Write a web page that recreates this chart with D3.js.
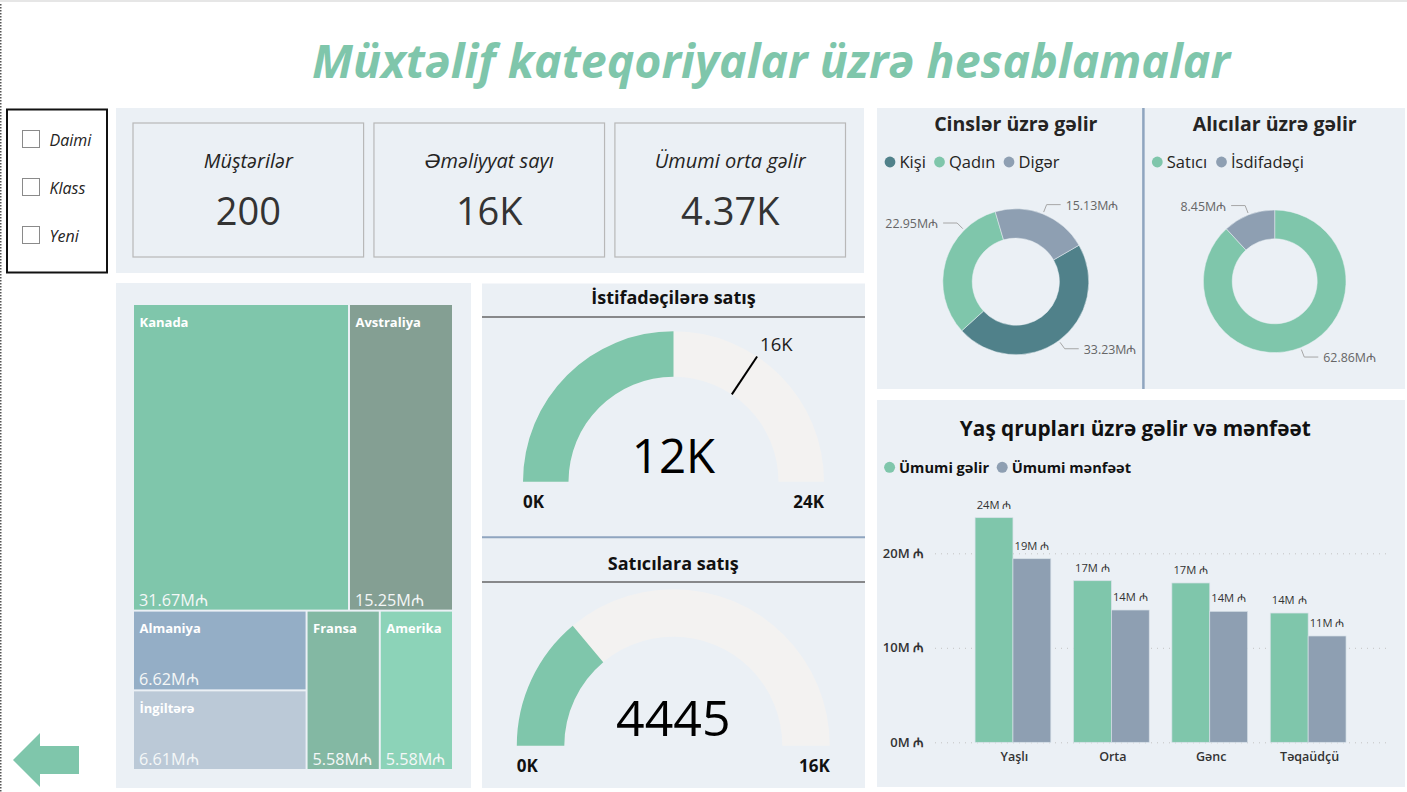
<!DOCTYPE html>
<html>
<head>
<meta charset="utf-8">
<script src="https://cdn.jsdelivr.net/npm/d3@7"></script>
<style>
  body { margin: 0; background: #fff; overflow: hidden; }
  svg { display: block; }
  text { font-family: "Open Sans", "DejaVu Sans", sans-serif; }
</style>
</head>
<body>
<div id="chart"></div>
<script>
const green = "#7FC6AB"
const slate = "#8E9FB2"
const teal = "#50818A"
const panelBg = "#EBF0F5"
const track = "#F3F2F1"

// slicer + cards
const slicerItems = ["Daimi", "Klass", "Yeni"]
const cardLabels = ["Müştərilər", "Əməliyyat sayı", "Ümumi orta gəlir"]
const cardValues = ["200", "16K", "4.37K"]

// treemap
const treeNames = ["Kanada", "Avstraliya", "Almaniya", "İngiltərə", "Fransa", "Amerika"]
const treeValues = [31.67, 15.25, 6.62, 6.61, 5.58, 5.58]
const treeColors = ["#7FC6AB", "#849F93", "#94AEC6", "#BBC9D7", "#83B8A3", "#8CD3B8"]

// gauges
const gaugeTitles = ["İstifadəçilərə satış", "Satıcılara satış"]
const gaugeValues = [12000, 4445]
const gaugeMax = [24000, 16000]
const gaugeLabels = ["12K", "4445"]
const gaugeMaxLabels = ["24K", "16K"]
const gaugeTarget = 16500
const gaugeTargetLabel = "16K"

// donuts
const genderNames = ["Kişi", "Qadın", "Digər"]
const genderValues = [33.23, 22.95, 15.13]
const buyerNames = ["Satıcı", "İsdifadəçi"]
const buyerValues = [62.86, 8.45]

// bars
const ageGroups = ["Yaşlı", "Orta", "Gənc", "Təqaüdçü"]
const revenue = [23.77, 17.1, 16.86, 13.68]
const profit = [19.43, 14.0, 13.86, 11.25]
const barSeries = ["Ümumi gəlir", "Ümumi mənfəət"]
const yTicks = [0, 10, 20]

const svg = d3.select("#chart").append("svg")
    .attr("width", 1407)
    .attr("height", 792)

const panel = (x, y, w, h) => {
    svg.append("rect").attr("x", x).attr("y", y).attr("width", w).attr("height", h).attr("fill", panelBg)
}

const label = (g, x, y, str, size, opts = {}) => {
    return g.append("text")
        .attr("x", x)
        .attr("y", y)
        .attr("font-size", size)
        .attr("text-anchor", opts.anchor || "start")
        .attr("font-weight", opts.weight || 400)
        .attr("font-style", opts.style || "normal")
        .attr("fill", opts.fill || "#252423")
        .text(str)
}

const hline = (x1, x2, y, color, width) => {
    svg.append("line").attr("x1", x1).attr("x2", x2).attr("y1", y).attr("y2", y)
        .attr("stroke", color).attr("stroke-width", width)
}

// page furniture
svg.append("rect").attr("width", 1407).attr("height", 2).attr("fill", "#E6E6E6")
svg.append("line").attr("x1", 0.75).attr("x2", 0.75).attr("y1", 4).attr("y2", 792)
    .attr("stroke", "#555").attr("stroke-width", 1.5).attr("stroke-dasharray", "1.5,1.5")

label(svg, 771, 78, "Müxtəlif kateqoriyalar üzrə hesablamalar", 46.5, {anchor: "middle", weight: 700, style: "italic", fill: green})

panel(116, 108, 748, 165)
panel(116, 283, 355, 505)
panel(482, 283.5, 383, 504.5)
panel(877, 108, 528, 281)
panel(877, 400, 528, 387)

// slicer
svg.append("rect").attr("x", 7).attr("y", 109.5).attr("width", 100).attr("height", 163)
    .attr("fill", "#fff").attr("stroke", "#111").attr("stroke-width", 2)

const slicerY = d3.scalePoint().domain(slicerItems).range([139, 235])
slicerItems.forEach((d) => {
    svg.append("rect").attr("x", 22.5).attr("y", slicerY(d) - 8.5).attr("width", 17).attr("height", 17)
        .attr("fill", "#fff").attr("stroke", "#8a8a8a").attr("stroke-width", 1)
    label(svg, 49.5, slicerY(d) + 6.5, d, 16, {style: "italic"})
})

// cards
const cardX = d3.scaleBand().domain(cardLabels).range([133, 845.5]).paddingInner(0.043)
cardLabels.forEach((d, i) => {
    svg.append("rect").attr("x", cardX(d)).attr("y", 123).attr("width", cardX.bandwidth()).attr("height", 134)
        .attr("fill", "none").attr("stroke", "#B8B8B8").attr("stroke-width", 1.2)
    const cx = cardX(d) + cardX.bandwidth() / 2
    label(svg, cx, 168, d, 20, {anchor: "middle", style: "italic"})
    label(svg, cx, 225, cardValues[i], 38, {anchor: "middle", fill: "#333"})
})

// back arrow
svg.append("path").attr("d", "M13,760L40,733V746H79V774H40V787Z").attr("fill", green)

// treemap, rows and columns follow the original nesting
const byName = (n) => ({name: n, value: treeValues[treeNames.indexOf(n)]})
const treeData = {children: [
    {children: [byName("Kanada"), byName("Avstraliya")]},
    {children: [
        {children: [byName("Almaniya"), byName("İngiltərə")]},
        byName("Fransa"),
        byName("Amerika")
    ]}
]}
const tile = (node, x0, y0, x1, y1) => {
    if (node.depth === 1) d3.treemapDice(node, x0, y0, x1, y1)
    else d3.treemapSlice(node, x0, y0, x1, y1)
}
const treeRoot = d3.hierarchy(treeData).sum((d) => d.value || 0)
d3.treemap().size([318, 464]).tile(tile).paddingInner(2)(treeRoot)

const cells = svg.append("g").attr("transform", "translate(134,305)")
    .selectAll("g").data(treeRoot.leaves()).enter().append("g")
cells.append("rect")
    .attr("x", (d) => d.x0)
    .attr("y", (d) => d.y0)
    .attr("width", (d) => d.x1 - d.x0)
    .attr("height", (d) => d.y1 - d.y0)
    .attr("fill", (d) => treeColors[treeNames.indexOf(d.data.name)])
cells.append("text")
    .attr("x", (d) => d.x0 + 5.5)
    .attr("y", (d) => d.y0 + 21.5)
    .attr("font-size", 13)
    .attr("font-weight", 700)
    .attr("fill", "#fff")
    .text((d) => d.data.name)
cells.append("text")
    .attr("x", (d) => d.x0 + 5)
    .attr("y", (d) => d.y1 - 4)
    .attr("font-size", 16.2)
    .attr("fill", "#F4F7F7")
    .text((d) => d.data.value.toFixed(2) + "M₼")

// gauges
const gaugeGeom = [
    {cx: 673.5, cy: 481.7, r0: 105, r1: 150.5, titleY: 304, lineY: 317, valueY: 473, valueSize: 47.5, endY: 508},
    {cx: 673.3, cy: 745.7, r0: 109, r1: 156.5, titleY: 570, lineY: 582, valueY: 736, valueSize: 50, endY: 772}
]
hline(482, 865, 537.3, "#8FA5BF", 2)

gaugeTitles.forEach((t, i) => {
    const g = gaugeGeom[i]
    const angle = d3.scaleLinear().domain([0, gaugeMax[i]]).range([-Math.PI / 2, Math.PI / 2])
    const arc = d3.arc().innerRadius(g.r0).outerRadius(g.r1)
    const holder = svg.append("g").attr("transform", `translate(${g.cx},${g.cy})`)

    label(svg, g.cx, g.titleY, t, 18, {anchor: "middle", weight: 700, fill: "#111"})
    hline(482, 865, g.lineY, "#666", 1.5)

    holder.append("path").attr("fill", track)
        .attr("d", arc({startAngle: -Math.PI / 2, endAngle: Math.PI / 2}))
    holder.append("path").attr("fill", green)
        .attr("d", arc({startAngle: -Math.PI / 2, endAngle: angle(gaugeValues[i])}))

    label(svg, g.cx, g.valueY, gaugeLabels[i], g.valueSize, {anchor: "middle", fill: "#000"})
    label(svg, g.cx - g.r1, g.endY, "0K", 17, {weight: 700, fill: "#111"})
    label(svg, g.cx + g.r1, g.endY, gaugeMaxLabels[i], 17, {anchor: "end", weight: 700, fill: "#111"})

    if (i === 0) {
        const a = angle(gaugeTarget)
        holder.append("line")
            .attr("x1", g.r0 * Math.sin(a)).attr("y1", -g.r0 * Math.cos(a))
            .attr("x2", g.r1 * Math.sin(a)).attr("y2", -g.r1 * Math.cos(a))
            .attr("stroke", "#000").attr("stroke-width", 2)
        label(svg, g.cx + g.r1 * Math.sin(a) + 3, g.cy - g.r1 * Math.cos(a) - 6, gaugeTargetLabel, 18.5, {fill: "#222"})
    }
})

// donuts
const drawDonut = (opts) => {
    const pie = d3.pie().sort(null).startAngle(opts.start).endAngle(opts.start + Math.PI * 2)
    const arcs = pie(opts.values)
    const arc = d3.arc().innerRadius(opts.r0).outerRadius(opts.r1)
    const g = svg.append("g").attr("transform", `translate(${opts.cx},${opts.cy})`)

    g.selectAll("path").data(arcs).enter().append("path")
        .attr("d", arc)
        .attr("fill", (d, i) => opts.colors[i])
        .attr("stroke", panelBg)
        .attr("stroke-width", 0.5)

    arcs.forEach((d, i) => {
        // the Qadın leader sits off its slice centre in the original
        const mid = opts.leaderAngle && opts.leaderAngle[i] !== undefined
            ? opts.leaderAngle[i]
            : (d.startAngle + d.endAngle) / 2
        const side = Math.sin(mid) >= 0 ? 1 : -1
        const p1 = [(opts.r1 + 2) * Math.sin(mid), -(opts.r1 + 2) * Math.cos(mid)]
        const p2 = [(opts.r1 + 10) * Math.sin(mid), -(opts.r1 + 10) * Math.cos(mid)]
        const p3 = [p2[0] + side * 14, p2[1]]
        g.append("polyline")
            .attr("points", [p1, p2, p3].join(" "))
            .attr("fill", "none").attr("stroke", "#A6A6A6").attr("stroke-width", 1)
        label(g, p3[0] + side * 5, p3[1] + 5, d.value.toFixed(2) + "M₼", 12.4, {anchor: side > 0 ? "start" : "end", fill: "#666"})
    })

    label(svg, opts.cx, 131, opts.title, 19.5, {anchor: "middle", weight: 700})

    opts.names.forEach((n, i) => {
        svg.append("circle").attr("cx", opts.legendX[i]).attr("cy", 162).attr("r", 5.4).attr("fill", opts.colors[i])
        label(svg, opts.legendX[i] + 9.5, 167.5, n, 16.5)
    })
}

drawDonut({
    cx: 1015.8, cy: 281.7, r0: 43.6, r1: 73, start: Math.PI / 3,
    values: genderValues, names: genderNames, colors: [teal, green, slate],
    title: "Cinslər üzrə gəlir", legendX: [890, 939.5, 1009],
    leaderAngle: [undefined, Math.PI * 1.75, undefined]
})
drawDonut({
    cx: 1274.7, cy: 281.3, r0: 42.5, r1: 71.3, start: 0,
    values: buyerValues, names: buyerNames, colors: [green, slate],
    title: "Alıcılar üzrə gəlir", legendX: [1157.3, 1221.5]
})
svg.append("line").attr("x1", 1143.4).attr("x2", 1143.4).attr("y1", 108).attr("y2", 389)
    .attr("stroke", "#8FA5BF").attr("stroke-width", 2.5)

// grouped bars
const yScale = d3.scaleLinear().domain([0, 20]).range([742.3, 553.3])
const xScale = d3.scaleBand().domain(ageGroups).range([963.75, 1357.35]).paddingInner(0.23).paddingOuter(0.115)
const xSub = d3.scaleBand().domain(barSeries).range([0, xScale.bandwidth()])
const barColor = d3.scaleOrdinal().domain(barSeries).range([green, slate])

label(svg, 1135.3, 436, "Yaş qrupları üzrə gəlir və mənfəət", 20.8, {anchor: "middle", weight: 700, fill: "#111"})

const legendX = [889.6, 1002.2]
barSeries.forEach((s, i) => {
    svg.append("circle").attr("cx", legendX[i]).attr("cy", 467.3).attr("r", 5.5).attr("fill", barColor(s))
    label(svg, legendX[i] + 9.5, 472.5, s, 14.6, {weight: 700, fill: "#111"})
})

const yAxis = svg.append("g")
    .attr("transform", "translate(935,0)")
    .call(d3.axisLeft(yScale).tickValues(yTicks).tickSize(-451).tickPadding(11).tickFormat((d) => d + "M ₼"))
yAxis.select(".domain").remove()
yAxis.selectAll(".tick line").attr("stroke", "#C4C4C4").attr("stroke-dasharray", "1,5")
yAxis.selectAll(".tick text")
    .attr("font-family", null).attr("font-size", 13).attr("font-weight", 600).attr("fill", "#333")

const xAxis = svg.append("g")
    .attr("transform", "translate(1.5,742.3)")
    .call(d3.axisBottom(xScale).tickSize(0).tickPadding(10))
xAxis.select(".domain").remove()
xAxis.selectAll(".tick text")
    .attr("font-family", null).attr("font-size", 12.5).attr("font-weight", 600).attr("fill", "#333")

const barRows = ageGroups.map((g, i) => [
    {group: g, series: barSeries[0], value: revenue[i]},
    {group: g, series: barSeries[1], value: profit[i]}
]).flat()

svg.selectAll(".bar").data(barRows).enter().append("rect")
    .attr("class", "bar")
    .attr("x", (d) => xScale(d.group) + xSub(d.series))
    .attr("y", (d) => yScale(d.value))
    .attr("width", xSub.bandwidth())
    .attr("height", (d) => yScale(0) - yScale(d.value))
    .attr("fill", (d) => barColor(d.series))
    .attr("stroke", "#D8E1E8")
    .attr("stroke-width", 0.7)

svg.selectAll(".bar-label").data(barRows).enter().append("text")
    .attr("class", "bar-label")
    .attr("x", (d) => xScale(d.group) + xSub(d.series) + xSub.bandwidth() / 2)
    .attr("y", (d) => yScale(d.value) - 9)
    .attr("text-anchor", "middle")
    .attr("font-size", 11.2)
    .attr("fill", "#333")
    .text((d) => Math.round(d.value) + "M ₼")
</script>
</body>
</html>
